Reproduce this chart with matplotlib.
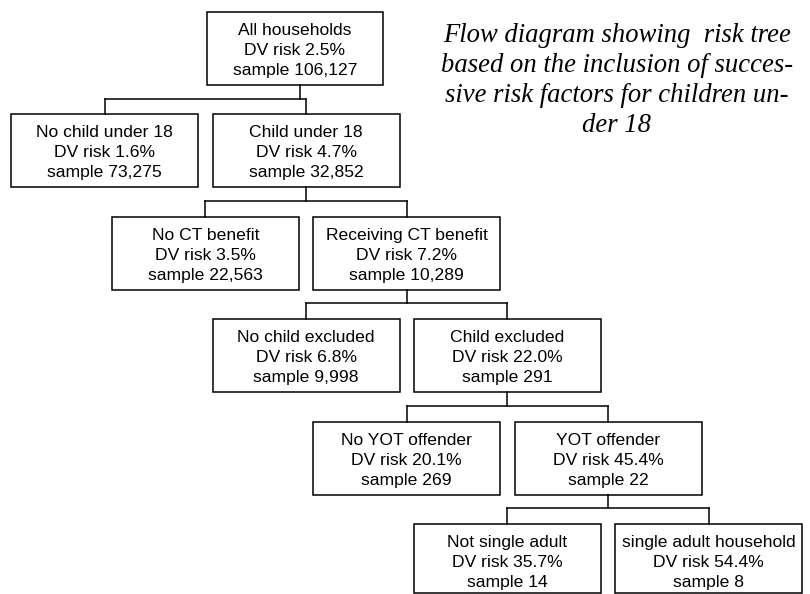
import matplotlib
matplotlib.use("Agg")
import matplotlib.pyplot as plt
from matplotlib.patches import Rectangle

# node data (tree order: root, then left/right child for each split)
labels = ["All households",
          "No child under 18", "Child under 18",
          "No CT benefit", "Receiving CT benefit",
          "No child excluded", "Child excluded",
          "No YOT offender", "YOT offender",
          "Not single adult", "single adult household"]
risk = [2.5, 1.6, 4.7, 3.5, 7.2, 6.8, 22.0, 20.1, 45.4, 35.7, 54.4]
sample = [106127, 73275, 32852, 22563, 10289, 9998, 291, 269, 22, 14, 8]
level = [0, 1, 1, 2, 2, 3, 3, 4, 4, 5, 5]
parent = [None, 0, 0, 2, 2, 4, 4, 6, 6, 8, 8]

title_lines = ["Flow diagram showing  risk tree",
               "based on the inclusion of succes-",
               "sive risk factors for children un-",
               "der 18"]

W, H = 810, 594
fig = plt.figure(figsize=(W / 100, H / 100), dpi=100)
ax = fig.add_axes([0, 0, 1, 1])
ax.set_xlim(0, W)
ax.set_ylim(H, 0)
ax.axis("off")

# layout
bw, bh = 187, 73
top0, dy = 12, 102.4
step = 100.7

def box_geom(i):
    L = level[i]
    top = top0 + dy * L
    if L == 0:
        return 207, top, 383 - 207
    cx_right = 306 + step * (L - 1)
    cx = cx_right if i % 2 == 0 else cx_right - 2 * step
    return cx - bw / 2, top, bw

def center_x(i):
    x, t, w = box_geom(i)
    return x + w / 2

lw = 1.1
for i in range(len(labels)):
    x, top, w = box_geom(i)
    h = min(bh, 592.5 - top)
    ax.add_patch(Rectangle((x, top), w, h, fill=False, ec="black", lw=lw))
    cx = x + w / 2
    lines = [labels[i], "DV risk %.1f%%" % risk[i], "sample {:,}".format(sample[i])]
    for k, s in enumerate(lines):
        ax.text(cx, top + 23 + 20 * k, s, ha="center", va="baseline",
                fontsize=12.6, family="Liberation Sans")

# connectors
for i in range(len(labels)):
    p = parent[i]
    if p is None or i % 2 == 0:
        continue
    left, right = i, i + 1
    px, ptop, pw = box_geom(p)
    pbot = ptop + bh
    pcx = 300 if level[p] == 0 else center_x(p)
    ctop = box_geom(left)[1]
    ymid = pbot + 13.5
    ax.plot([pcx, pcx], [pbot, ymid], color="black", lw=lw)
    ax.plot([center_x(left), center_x(right)], [ymid, ymid], color="black", lw=lw)
    for c in (left, right):
        ax.plot([center_x(c), center_x(c)], [ymid, ctop], color="black", lw=lw)

# title text
for k, s in enumerate(title_lines):
    ax.text(617, 42 + 30 * k, s, ha="center", va="baseline", fontsize=19.2,
            family="Liberation Serif", style="italic")

fig.savefig("out.png", dpi=100)
